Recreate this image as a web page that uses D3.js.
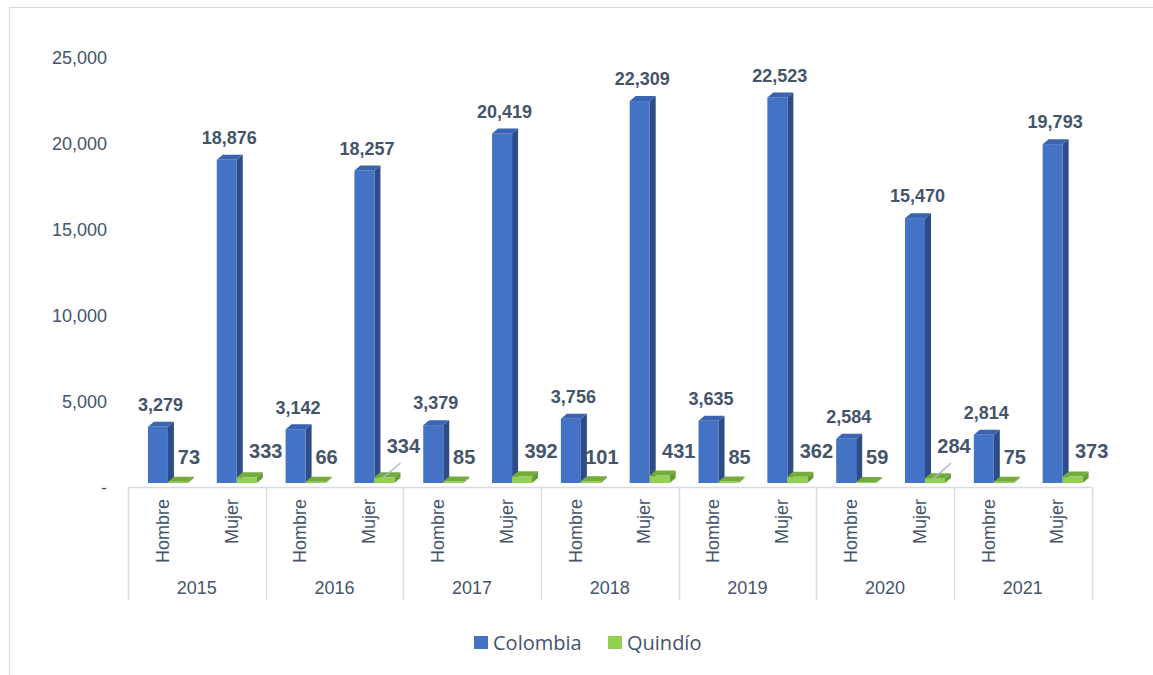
<!DOCTYPE html>
<html>
<head>
<meta charset="utf-8">
<script src="https://cdn.jsdelivr.net/npm/d3@7"></script>
<style>
  html, body { margin: 0; padding: 0; background: #fff; }
  svg { display: block; }
</style>
</head>
<body>
<svg id="chart" width="1153" height="675"></svg>
<script>
// ---- data ----
const years = ["2015", "2016", "2017", "2018", "2019", "2020", "2021"];
const sexes = ["Hombre", "Mujer"];
const seriesNames = ["Colombia", "Quindío"];
const colombiaHombre = [3279, 3142, 3379, 3756, 3635, 2584, 2814];
const colombiaMujer = [18876, 18257, 20419, 22309, 22523, 15470, 19793];
const quindioHombre = [73, 66, 85, 101, 85, 59, 75];
const quindioMujer = [333, 334, 392, 431, 362, 284, 373];
const yTicks = [0, 5000, 10000, 15000, 20000, 25000];
const leaderLabels = ["2016-Mujer", "2020-Mujer"];

// ---- styles ----
const TEXT = "#44546A";
const FONT = "'Liberation Sans', Arial, sans-serif";
const styles = {
  "Colombia": { front: "#4472C4", side: "#2D4D88", top: "#3A63B0" },
  "Quindío": { front: "#92D050", side: "#679C36", top: "#74AB3D" }
};

const svg = d3.select("#chart");

// frame
svg.append("rect").attr("x", 9.5).attr("y", 7.5).attr("width", 1160).attr("height", 700)
  .attr("fill", "none").attr("stroke", "#D9D9D9").attr("stroke-width", 1);

// table of values
const rows = [];
years.forEach((yr, i) => {
  sexes.forEach(sx => {
    const col = sx === "Hombre" ? colombiaHombre[i] : colombiaMujer[i];
    const qui = sx === "Hombre" ? quindioHombre[i] : quindioMujer[i];
    rows.push({ year: yr, sex: sx, series: "Colombia", value: col });
    rows.push({ year: yr, sex: sx, series: "Quindío", value: qui });
  });
});

// scales
const x0 = d3.scaleBand().domain(years).range([128, 1091.5]).padding(0);
const x1 = d3.scaleBand().domain(sexes).range([0, x0.bandwidth()]).padding(0);
const cw = x1.bandwidth();
const x2 = d3.scaleBand().domain(seriesNames).range([cw * 0.29, cw * 0.29 + 40]).padding(0);
const yBar = d3.scaleLinear().domain([0, 25000]).range([483, 483 - 25000 * 0.01712]);
const yAxisScale = d3.scaleLinear().domain([0, 25000]).range([488, 58]);

const DX = 6, DY = 5;

// y axis labels
const yAxis = d3.axisLeft(yAxisScale).tickValues(yTicks).tickSize(0).tickPadding(0)
  .tickFormat(v => v === 0 ? "-" : d3.format(",")(v));
const yg = svg.append("g").attr("transform", "translate(107,0)").call(yAxis);
yg.select(".domain").remove();
yg.selectAll("text").attr("font-family", FONT).attr("font-size", 18).attr("fill", TEXT);

// category axis lines
const lineColor = "#D6DCE4";
svg.append("line").attr("x1", 128).attr("x2", 1091.5).attr("y1", 487.5).attr("y2", 487.5)
  .attr("stroke", lineColor).attr("stroke-width", 1.5);
const bounds = years.map(y => x0(y)).concat([x0(years[years.length - 1]) + x0.bandwidth()]);
svg.selectAll(".sep").data(bounds).enter().append("line")
  .attr("x1", d => Math.round(d) + 0.5).attr("x2", d => Math.round(d) + 0.5)
  .attr("y1", 487).attr("y2", 600)
  .attr("stroke", lineColor).attr("stroke-width", 1.5);

// category labels
years.forEach(yr => {
  sexes.forEach(sx => {
    const cx = x0(yr) + x1(sx) + cw / 2;
    svg.append("text")
      .attr("transform", `translate(${cx},499) rotate(-90)`)
      .attr("text-anchor", "end").attr("dy", "0.35em")
      .attr("font-family", FONT).attr("font-size", 18).attr("fill", TEXT)
      .text(sx);
  });
  svg.append("text")
    .attr("x", x0(yr) + x0.bandwidth() / 2).attr("y", 588).attr("dy", "0.35em")
    .attr("text-anchor", "middle")
    .attr("font-family", FONT).attr("font-size", 18).attr("fill", TEXT)
    .text(yr);
});

// bars (3D)
const bars = svg.append("g");
rows.forEach(d => {
  const st = styles[d.series];
  const xl = x0(d.year) + x1(d.sex) + x2(d.series);
  const w = x2.bandwidth();
  const yt = yBar(d.value), yb = yBar(0);
  const g = bars.append("g");
  // side
  g.append("path").attr("d",
    `M${xl + w},${yb} L${xl + w + DX},${yb - DY} L${xl + w + DX},${yt - DY} L${xl + w},${yt} Z`)
    .attr("fill", st.side);
  // front
  g.append("rect").attr("x", xl).attr("y", yt).attr("width", w).attr("height", yb - yt)
    .attr("fill", st.front);
  // top
  g.append("path").attr("d",
    `M${xl},${yt} L${xl + DX},${yt - DY} L${xl + w + DX},${yt - DY} L${xl + w},${yt} Z`)
    .attr("fill", st.top);
});

// value labels
const labels = svg.append("g");
rows.forEach(d => {
  const xl = x0(d.year) + x1(d.sex) + x2(d.series);
  const w = x2.bandwidth();
  const key = d.year + "-" + d.sex;
  if (d.series === "Colombia") {
    labels.append("text")
      .attr("x", xl + w / 2 + 2.5).attr("y", yBar(d.value) - 22).attr("dy", "0.35em")
      .attr("text-anchor", "middle")
      .attr("font-family", FONT).attr("font-size", 18).attr("font-weight", "bold")
      .attr("fill", TEXT).text(d3.format(",")(d.value));
  } else {
    const isM = d.sex === "Mujer";
    const lead = leaderLabels.includes(key);
    const cx = xl + w / 2 + (isM ? 19 : 11);
    const cy = lead ? 446 : (isM ? 451 : 457);
    if (lead) {
      labels.append("line")
        .attr("x1", xl + w / 2 - 2).attr("y1", yBar(d.value) + 1)
        .attr("x2", cx - 3).attr("y2", cy + 17)
        .attr("stroke", "#A9B8CF").attr("stroke-width", 1.5);
    }
    labels.append("text")
      .attr("x", cx).attr("y", cy).attr("dy", "0.35em")
      .attr("text-anchor", "middle")
      .attr("font-family", FONT).attr("font-size", 20).attr("font-weight", "bold")
      .attr("fill", TEXT).text(d3.format(",")(d.value));
  }
});

// legend
const legend = svg.append("g");
const legendX = [474, 608];
seriesNames.forEach((s, i) => {
  legend.append("rect").attr("x", legendX[i]).attr("y", 636).attr("width", 14).attr("height", 13)
    .attr("fill", styles[s].front);
  legend.append("text").attr("x", legendX[i] + 19).attr("y", 642.5).attr("dy", "0.35em")
    .attr("font-family", "'Open Sans', 'Noto Sans', sans-serif").attr("font-size", 20)
    .attr("fill", TEXT).text(s);
});
</script>
</body>
</html>
